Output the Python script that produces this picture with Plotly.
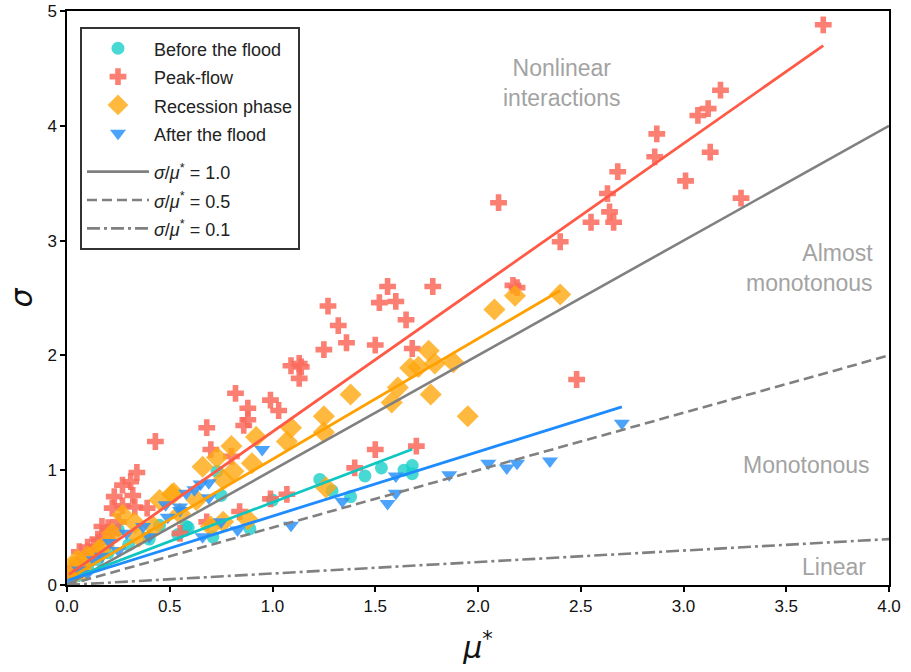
import plotly.graph_objects as go
import numpy as np

# ---------------- data ----------------
before_x = [0.01, 0.05, 0.10, 0.12, 0.15, 0.20, 0.25, 0.30, 0.40, 0.45, 0.54, 0.58, 0.59,
            0.71, 0.73, 0.75, 0.89, 1.00, 1.23, 1.29, 1.38, 1.45, 1.53, 1.64, 1.68, 1.68]
before_y = [0.03, 0.08, 0.15, 0.30, 0.22, 0.28, 0.48, 0.35, 0.40, 0.52, 0.44, 0.51, 0.50,
            0.42, 0.99, 0.78, 0.49, 0.74, 0.92, 0.82, 0.77, 0.95, 1.02, 1.00, 1.04, 0.97]

peak_x = [3.68, 3.18, 3.12, 3.07, 2.87, 3.13, 2.86, 2.68, 3.01, 2.63, 2.64, 2.66, 2.55, 3.28,
          2.40, 2.10, 2.17, 2.19, 2.48, 1.78, 1.56, 1.27, 1.52, 1.60, 1.32, 1.65, 1.36, 1.25,
          1.50, 1.68, 1.50, 1.70, 1.40, 1.09, 1.13, 1.14, 1.13, 0.82, 0.99, 0.88, 1.03, 0.88,
          0.86, 0.68, 0.70, 0.80, 0.99, 1.07, 0.84, 0.68, 0.55, 0.43, 0.34, 0.31, 0.27, 0.32,
          0.23, 0.22, 0.27, 0.33, 0.39, 0.17, 0.20, 0.22, 0.13, 0.06, 0.10, 0.03, 0.08, 0.15,
          0.12, 0.05, 0.18, 0.25, 0.01]
peak_y = [4.88, 4.31, 4.15, 4.09, 3.93, 3.77, 3.73, 3.60, 3.52, 3.41, 3.25, 3.16, 3.16, 3.37,
          2.99, 3.33, 2.61, 2.59, 1.79, 2.60, 2.60, 2.43, 2.46, 2.47, 2.26, 2.31, 2.11, 2.05,
          2.09, 2.06, 1.18, 1.21, 1.02, 1.91, 1.93, 1.90, 1.80, 1.67, 1.61, 1.54, 1.52, 1.44,
          1.39, 1.37, 1.18, 1.12, 0.75, 0.79, 0.64, 0.55, 0.45, 1.25, 0.98, 0.90, 0.87, 0.78,
          0.77, 0.67, 0.69, 0.68, 0.67, 0.51, 0.50, 0.45, 0.34, 0.29, 0.33, 0.12, 0.22, 0.40,
          0.28, 0.18, 0.42, 0.55, 0.10]

recession_x = [2.40, 2.18, 2.08, 1.76, 1.67, 1.71, 1.79, 1.88, 1.61, 1.38, 1.77, 1.58, 1.95,
               1.25, 1.25, 1.26, 1.09, 0.92, 1.07, 0.80, 0.73, 0.66, 0.90, 0.81, 0.76, 0.52,
               0.63, 0.88, 0.76, 0.70, 0.51, 0.45, 0.27, 0.33, 0.18, 0.05, 0.03, 0.42, 0.10,
               0.15, 0.22, 0.08, 0.35, 0.55, 0.01]
recession_y = [2.53, 2.52, 2.40, 2.04, 1.89, 1.90, 1.93, 1.94, 1.72, 1.66, 1.66, 1.59, 1.47,
               1.47, 1.33, 0.85, 1.37, 1.29, 1.25, 1.21, 1.11, 1.03, 1.06, 0.99, 0.92, 0.80,
               0.74, 0.57, 0.55, 0.51, 0.79, 0.74, 0.61, 0.54, 0.34, 0.22, 0.16, 0.51, 0.25,
               0.30, 0.45, 0.12, 0.42, 0.62, 0.05]

after_x = [2.70, 2.05, 2.14, 2.19, 2.35, 1.86, 1.34, 1.56, 1.60, 1.60, 0.95, 0.69, 0.62, 0.55,
           0.69, 0.83, 0.66, 1.09, 0.55, 0.49, 0.37, 0.29, 0.21, 0.13, 0.06, 0.48, 0.58, 0.65,
           0.10, 0.17, 0.25, 0.40, 0.75, 0.01]
after_y = [1.41, 1.06, 1.02, 1.06, 1.08, 0.96, 0.73, 0.71, 0.80, 0.95, 1.18, 0.89, 0.83, 0.65,
           0.76, 0.48, 0.42, 0.52, 0.68, 0.59, 0.51, 0.45, 0.37, 0.22, 0.13, 0.70, 0.80, 0.88,
           0.10, 0.25, 0.30, 0.42, 0.55, 0.02]

# fitted trend lines (slope, intercept)
fit_slope = {"before": 0.68, "peak": 1.255, "recession": 1.05, "after": 0.56}
fit_intercept = {"before": 0.04, "peak": 0.08, "recession": 0.046, "after": 0.04}

# reference ratio lines
ref_ratios = [1.0, 0.5, 0.1]
ref_labels = ["<i>σ</i>/<i>μ</i><sup>*</sup> = 1.0",
              "<i>σ</i>/<i>μ</i><sup>*</sup> = 0.5",
              "<i>σ</i>/<i>μ</i><sup>*</sup> = 0.1"]
ref_x_range = [0.0, 4.0]

region_labels = ["Nonlinear<br>interactions", "Almost<br>monotonous", "Monotonous", "Linear"]

# ---------------- figure ----------------
fig = go.Figure()

LEG_SPAN = '<span style="font-size:18px">{}</span>'

series = [
    ("before", "Before the flood", before_x, before_y, "circle", 13, "#1ccfc9", "#10c6c0", 0.8),
    ("peak", "Peak-flow", peak_x, peak_y, "cross", 14, "#fa6a5a", "#ff5a45", 0.85),
    ("recession", "Recession phase", recession_x, recession_y, "diamond", 17, "#ffa80f", "#ffa000", 0.8),
    ("after", "After the flood", after_x, after_y, "triangle-down", 14, "#2b93fa", "#1e8cff", 0.85),
]

for key, name, xs, ys, sym, size, mcol, lcol, op in series:
    fig.add_trace(go.Scatter(
        x=xs, y=ys, mode="markers", name=LEG_SPAN.format(name), legendgroup="data",
        marker=dict(symbol=sym, size=size, color=mcol, opacity=op, line=dict(width=0)),
    ))

ref_dashes = ["solid", "10px,5px", "13px,4px,3px,4px"]
for r, lab, dsh in zip(ref_ratios, ref_labels, ref_dashes):
    xs = np.array(ref_x_range)
    fig.add_trace(go.Scatter(
        x=xs, y=r * xs, mode="lines", name=LEG_SPAN.format(lab), legendgroup="ref",
        line=dict(color="#808080", width=2.6, dash=dsh),
    ))

for key, name, xs, ys, sym, size, mcol, lcol, op in series:
    lx = np.array([min(xs), max(xs)])
    ly = fit_intercept[key] + fit_slope[key] * lx
    fig.add_trace(go.Scatter(
        x=lx, y=ly, mode="lines", showlegend=False,
        line=dict(color=lcol, width=2.8),
    ))

ann_font = dict(family="Liberation Sans, Arial, sans-serif", size=23, color="#a3a3a3")
fig.add_annotation(x=2.41, y=4.37, text=region_labels[0], showarrow=False, align="center",
                   xanchor="center", yanchor="middle", font=ann_font)
fig.add_annotation(x=3.93, y=2.76, text=region_labels[1], showarrow=False, align="right",
                   xanchor="right", yanchor="middle", font=ann_font)
fig.add_annotation(x=3.60, y=1.045, text=region_labels[2], showarrow=False, align="center",
                   xanchor="center", yanchor="middle", font=ann_font)
fig.add_annotation(x=3.73, y=0.157, text=region_labels[3], showarrow=False, align="center",
                   xanchor="center", yanchor="middle", font=ann_font)

tick_font = dict(family="Liberation Sans Narrow, Arial Narrow, Liberation Sans, Arial", size=17, color="#111")

fig.update_layout(
    width=911, height=672,
    margin=dict(l=67, r=22, t=11, b=87),
    plot_bgcolor="white", paper_bgcolor="white",
    showlegend=True,
    legend=dict(
        x=0.0158, y=0.972, xanchor="left", yanchor="top",
        bgcolor="white", bordercolor="#333333", borderwidth=2,
        font=dict(family="Liberation Sans, Arial, sans-serif", size=19.5, color="#222"),
        tracegroupgap=10, traceorder="grouped", itemwidth=62,
        entrywidth=160, entrywidthmode="pixels",
    ),
    xaxis=dict(
        range=[0, 4.0], tickmode="array", automargin=False,
        tickvals=[0, 0.5, 1.0, 1.5, 2.0, 2.5, 3.0, 3.5, 4.0],
        ticktext=["0.0", "0.5", "1.0", "1.5", "2.0", "2.5", "3.0", "3.5", "4.0"],
        showgrid=False, zeroline=False, showline=True, linecolor="black", linewidth=1.5,
        mirror=True, ticks="outside", ticklen=5, tickwidth=1.5, tickcolor="black",
        tickfont=tick_font,
        title=dict(text="<i>μ</i><sup>*</sup>", font=dict(family="DejaVu Sans, sans-serif", size=30, color="#111"),
                   standoff=22),
    ),
    yaxis=dict(
        range=[0, 5.0], tickmode="array", tickvals=[0, 1, 2, 3, 4, 5], automargin=False,
        ticktext=["0", "1", "2", "3", "4", "5"],
        showgrid=False, zeroline=False, showline=True, linecolor="black", linewidth=1.5,
        mirror=True, ticks="outside", ticklen=5, tickwidth=1.5, tickcolor="black",
        tickfont=tick_font,
        title=dict(text="<i>σ</i>", font=dict(family="DejaVu Sans, sans-serif", size=30, color="#111"),
                   standoff=6),
    ),
)

fig.write_html("out.html")
